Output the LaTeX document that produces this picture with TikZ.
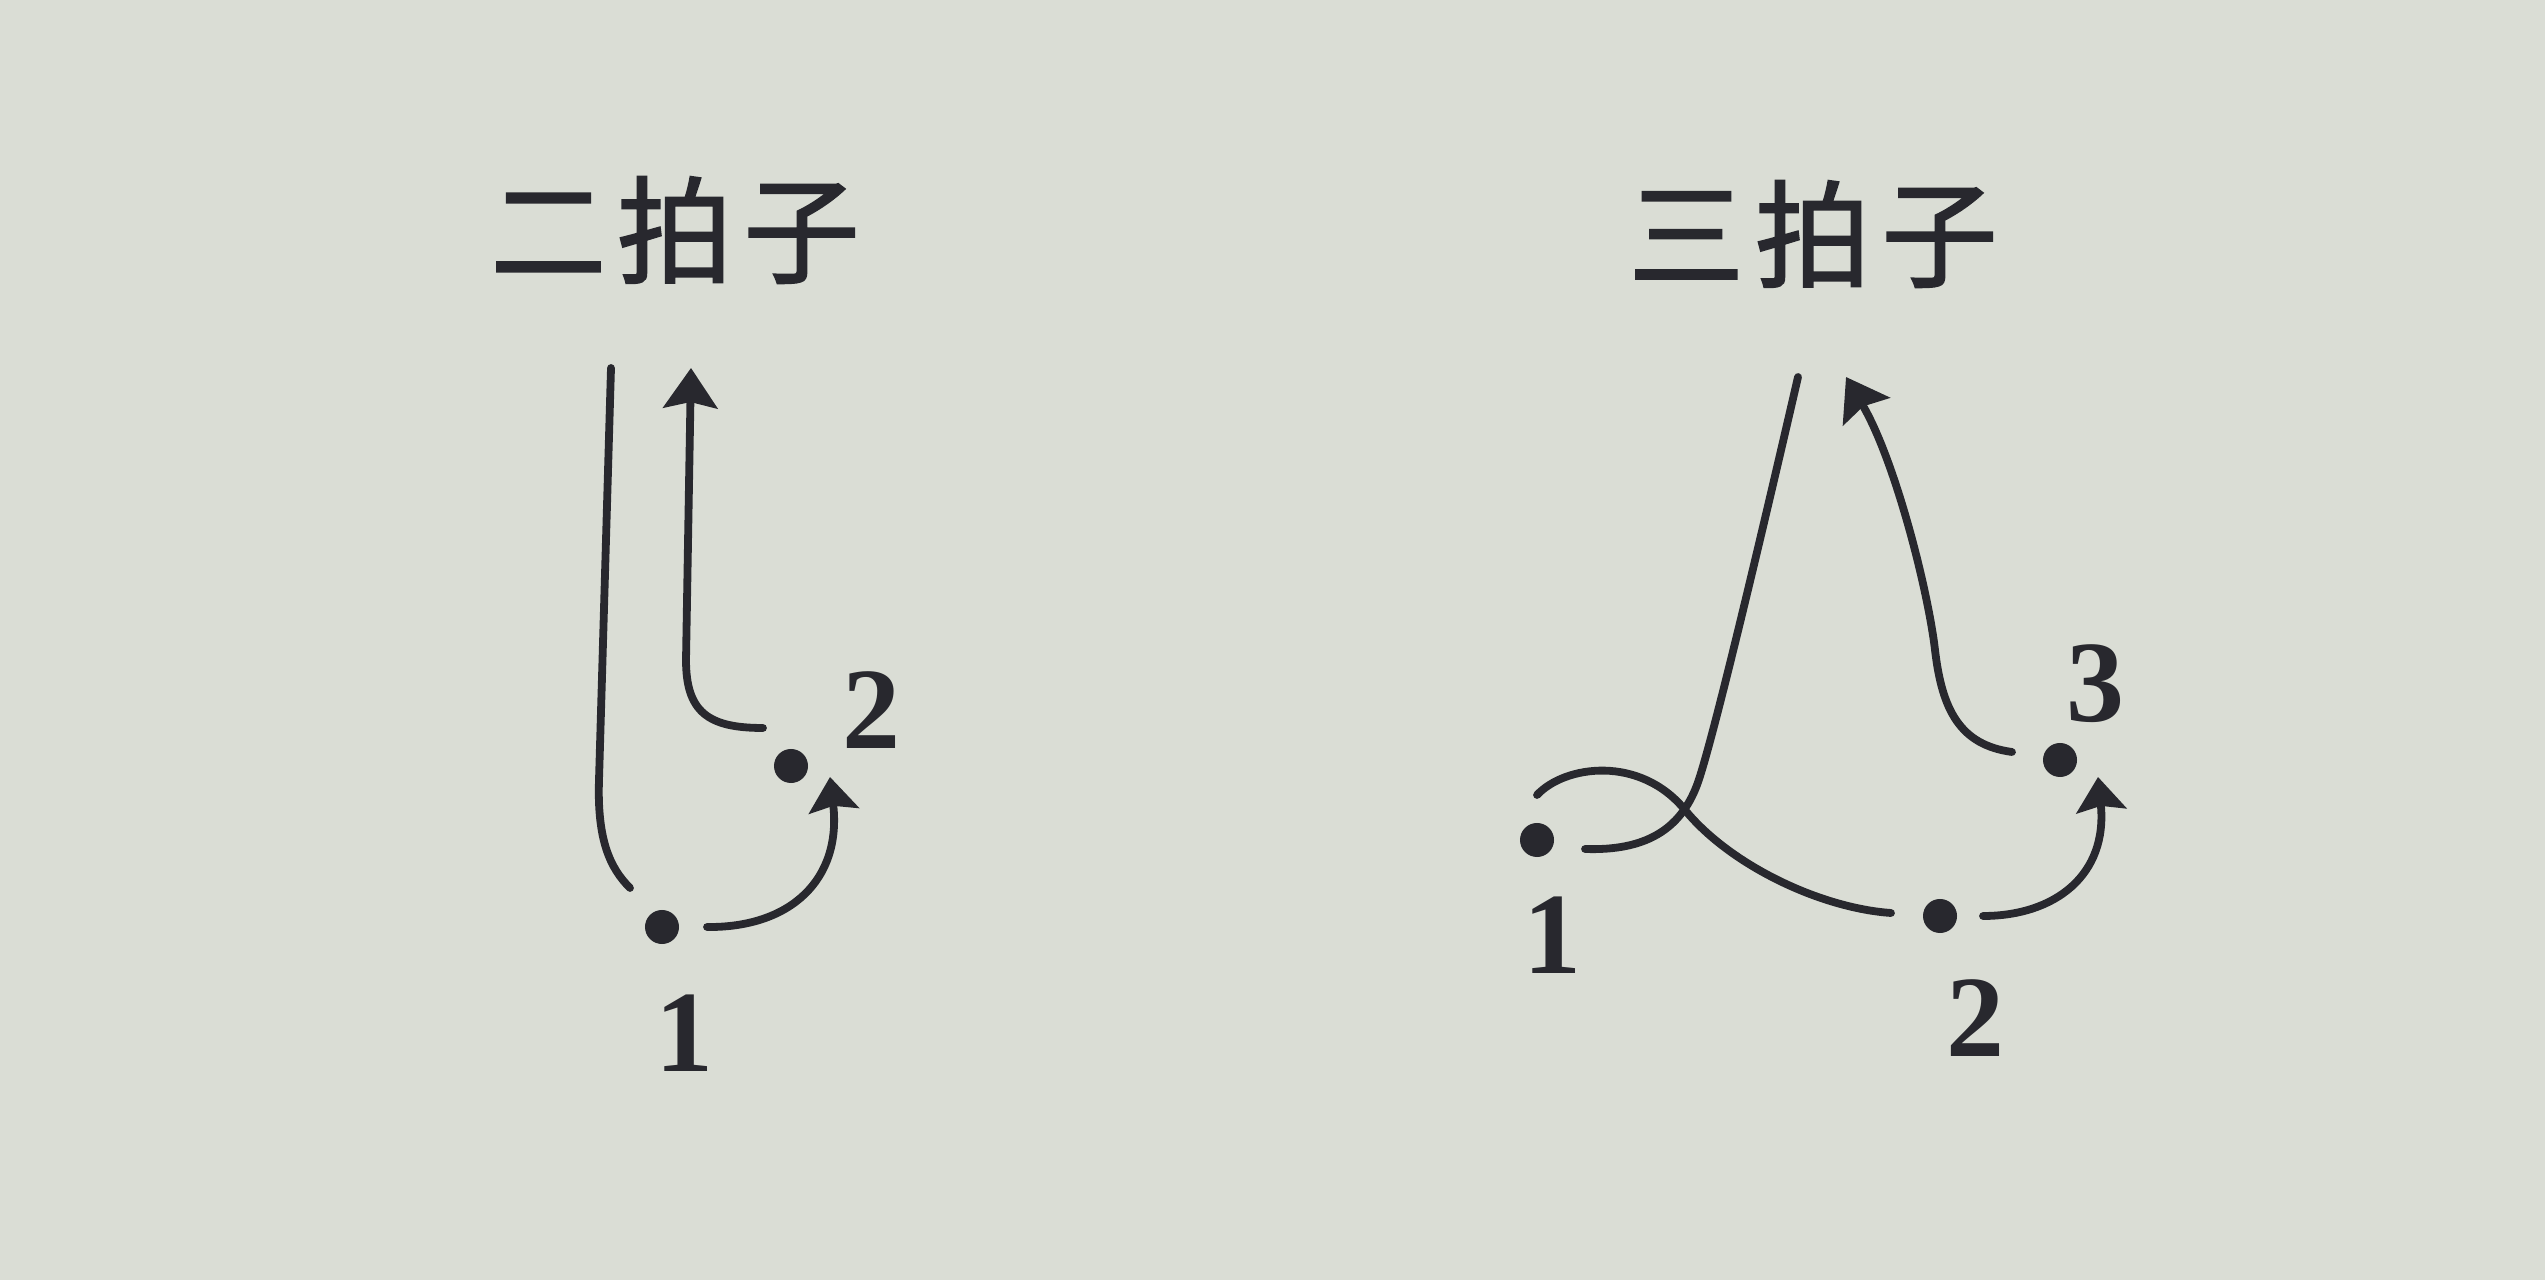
\documentclass[tikz,border=0pt]{standalone}
\usepackage{fontspec}
\newfontfamily\cjk{Noto Sans CJK SC}[FakeBold=1.6]
\newfontfamily\numfont{Liberation Serif}
\usetikzlibrary{arrows.meta}
\definecolor{paper}{RGB}{218,221,213}
\definecolor{ink}{RGB}{40,40,46}
\begin{document}
\begin{tikzpicture}[x=0.01cm,y=-0.01cm,
  dot/.style={circle,fill=ink,draw=none,minimum size=0.34cm,inner sep=0pt},
  num/.style={text=ink,inner sep=0pt,font=\numfont\bfseries\fontsize{33pt}{38pt}\selectfont},
  title/.style={text=ink,inner sep=0pt,font=\cjk\fontsize{33pt}{38pt}\selectfont},
  stroke/.style={draw=ink,line width=0.078cm,line cap=round},
  tip/.style={-{Stealth[length=0.4cm,width=0.54cm,inset=0.06cm]}},
  smalltip/.style={-{Stealth[length=0.34cm,width=0.5cm,inset=0.05cm]}}]
\fill[paper] (0,0) rectangle (2545,1280);
\useasboundingbox (0,0) rectangle (2545,1280);
% ---------- left: duple ----------
\node[title] (t2) at (675,230) {二\hspace{3pt}拍\hspace{3pt}子};
\node[dot] (L1) at (662,927) {};
\node[dot] (L2) at (791,766) {};
\node[num] (n1) at (685,1033) {1};
\node[num] (n2) at (872,710) {2};
\coordinate (La) at (611,368);
\coordinate (Lb) at (630,888);
\coordinate (Lc) at (763,728);
\coordinate (Ld) at (691,368);
\coordinate (Le) at (707,927);
\coordinate (Lf) at (830,777);
\draw[stroke] (La) -- (599,780) .. controls (597,840) and (610,868) .. (Lb);
\draw[stroke,tip] (Lc) .. controls (708,728) and (686,712) .. (686,660) -- (Ld);
\draw[stroke,smalltip] (Le) .. controls (790,928) and (842,880) .. (Lf);
% ---------- right: triple ----------
\node[title] (t3) at (1813,234) {三\hspace{3pt}拍\hspace{3pt}子};
\node[dot] (R1) at (1537,840) {};
\node[dot] (R2) at (1940,916) {};
\node[dot] (R3) at (2060,760) {};
\node[num] (m1) at (1552,935) {1};
\node[num] (m2) at (1975,1018) {2};
\node[num] (m3) at (2095,684) {3};
\coordinate (Ra) at (1585,849);
\coordinate (Rb) at (1798,377);
\coordinate (Rc) at (1537,795);
\coordinate (Rd) at (1891,913);
\coordinate (Re) at (1983,916);
\coordinate (Rf) at (2098,777);
\coordinate (Rg) at (2012,752);
\coordinate (Rh) at (1846,377);
\draw[stroke] (Ra) .. controls (1645,851) and (1680,830) .. (1697,785)
  .. controls (1712,745) and (1765,520) .. (Rb);
\draw[stroke] (Rc) .. controls (1565,765) and (1640,755) .. (1685,810)
  .. controls (1730,865) and (1820,908) .. (Rd);
\draw[stroke,smalltip] (Re) .. controls (2055,916) and (2108,875) .. (Rf);
\draw[stroke,tip] (Rg) .. controls (1960,745) and (1942,710) .. (1935,650)
  .. controls (1928,590) and (1895,460) .. (Rh);
\end{tikzpicture}
\end{document}
